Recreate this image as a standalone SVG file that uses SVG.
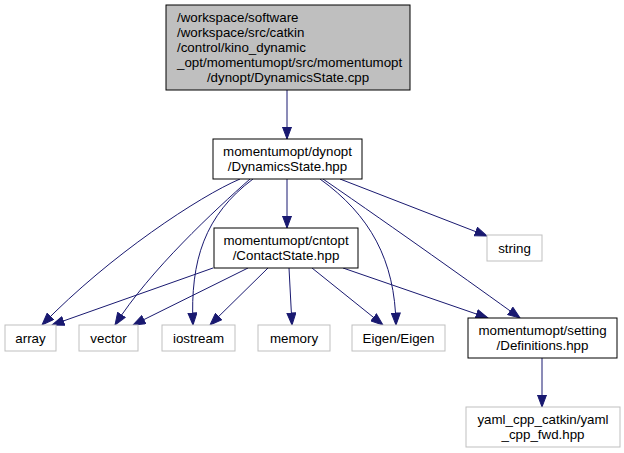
<svg xmlns="http://www.w3.org/2000/svg" width="624" height="453" viewBox="0 0 624 453">
<style>
text{font-family:"Liberation Sans",Arial,sans-serif;font-size:13.33px;fill:#000;text-anchor:middle}
.box{fill:#fff;stroke:#000;stroke-width:1}
.gray{fill:#fff;stroke:#bfbfbf;stroke-width:1}
.cur{fill:#bfbfbf;stroke:#000;stroke-width:1}
.e{fill:none;stroke:#191970;stroke-width:1;marker-end:url(#ah)}
</style>
<defs>
<marker id="ah" markerUnits="userSpaceOnUse" markerWidth="13" markerHeight="10" refX="12.5" refY="5" orient="auto">
<path d="M0.5,0.5 L12.5,5 L0.5,9.5 Z" fill="#191970" stroke="#191970" stroke-width="1"/>
</marker>
</defs>
<rect width="624" height="453" fill="#fff"/>
<g id="edges">
<path class="e" d="M287,90 L287,139"/>
<path class="e" d="M240,179 C200,196 110,255 42,325"/>
<path class="e" d="M250,179 C215,210 150,270 115,325"/>
<path class="e" d="M253,179 C205,215 190,260 193,325"/>
<path class="e" d="M287,179 L287,228"/>
<path class="e" d="M320,179 C370,215 395,260 396,325"/>
<path class="e" d="M323,179 C400,232 470,282 520,318"/>
<path class="e" d="M340,179 L487,236"/>
<path class="e" d="M213,268 L52,325"/>
<path class="e" d="M248,268 L133,325"/>
<path class="e" d="M268,268 L210,325"/>
<path class="e" d="M289,268 L292,325"/>
<path class="e" d="M312,268 L383,325"/>
<path class="e" d="M343,268 L488,318"/>
<path class="e" d="M542,358 L542,407"/>
</g>
<g id="node_cpp">
<rect class="cur" x="166" y="5" width="244" height="85"/>
<text x="177" y="22" style="text-anchor:start">/workspace/software</text>
<text x="177" y="37" style="text-anchor:start">/workspace/src/catkin</text>
<text x="177" y="52" style="text-anchor:start">/control/kino_dynamic</text>
<text x="177" y="67" style="text-anchor:start">_opt/momentumopt/src/momentumopt</text>
<text x="288" y="82">/dynopt/DynamicsState.cpp</text>
</g>
<g id="node_dynamics">
<rect class="box" x="213" y="139" width="149" height="40"/>
<text x="287.5" y="156">momentumopt/dynopt</text>
<text x="287.5" y="171">/DynamicsState.hpp</text>
</g>
<g id="node_contact">
<rect class="box" x="214" y="228" width="144" height="40"/>
<text x="286" y="245">momentumopt/cntopt</text>
<text x="286" y="260">/ContactState.hpp</text>
</g>
<g id="node_string">
<rect class="gray" x="487" y="235" width="55" height="26"/>
<text x="514.5" y="252.5">string</text>
</g>
<g id="node_array">
<rect class="gray" x="5" y="325" width="51" height="26"/>
<text x="30.5" y="342.5">array</text>
</g>
<g id="node_vector">
<rect class="gray" x="79" y="325" width="59" height="26"/>
<text x="108.5" y="342.5">vector</text>
</g>
<g id="node_iostream">
<rect class="gray" x="162" y="325" width="73" height="26"/>
<text x="198.5" y="342.5">iostream</text>
</g>
<g id="node_memory">
<rect class="gray" x="258" y="325" width="72" height="26"/>
<text x="294" y="342.5">memory</text>
</g>
<g id="node_eigen">
<rect class="gray" x="352" y="325" width="93" height="26"/>
<text x="398.5" y="342.5">Eigen/Eigen</text>
</g>
<g id="node_definitions">
<rect class="box" x="468" y="318" width="149" height="40"/>
<text x="542.5" y="335">momentumopt/setting</text>
<text x="542.5" y="350">/Definitions.hpp</text>
</g>
<g id="node_yaml">
<rect class="gray" x="466" y="407" width="154" height="40"/>
<text x="543" y="424">yaml_cpp_catkin/yaml</text>
<text x="543" y="439">_cpp_fwd.hpp</text>
</g>
</svg>
